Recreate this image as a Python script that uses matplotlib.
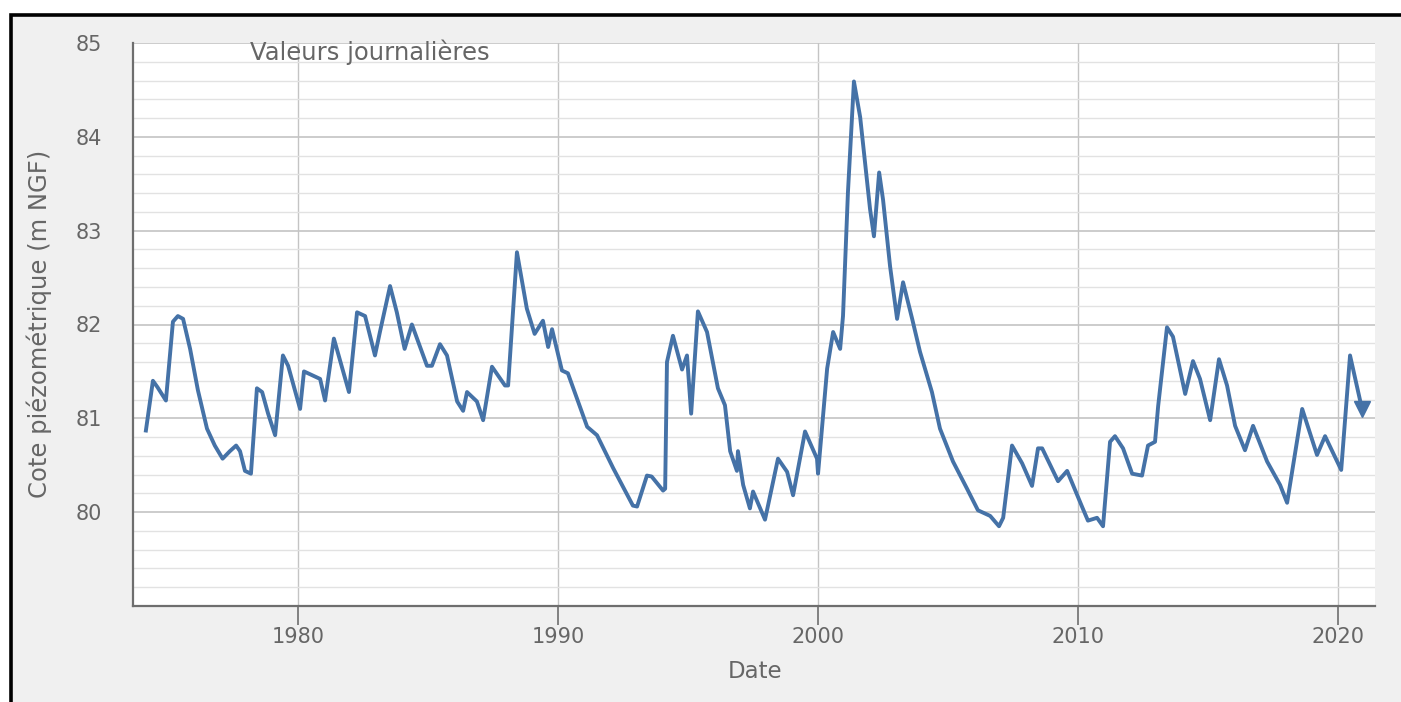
import numpy as np
import matplotlib
matplotlib.use("Agg")
from matplotlib import pyplot as plt
from matplotlib.patches import Rectangle
from matplotlib.ticker import MultipleLocator

# Piezometric level (decimal year, m NGF)
years = [
    1974.15, 1974.42, 1974.6, 1974.92, 1975.19, 1975.38, 1975.58, 1975.85,
    1976.15, 1976.5, 1976.8, 1977.1, 1977.38, 1977.62, 1977.77, 1977.96,
    1978.19, 1978.42, 1978.62, 1978.85, 1979.12, 1979.42, 1979.62, 1980.08,
    1980.23, 1980.85, 1981.04, 1981.38, 1981.96, 1982.27, 1982.58, 1982.96,
    1983.15, 1983.54, 1983.8, 1984.1, 1984.38, 1984.96, 1985.15, 1985.46,
    1985.73, 1986.12, 1986.35, 1986.5, 1986.88, 1987.12, 1987.46, 1987.96,
    1988.08, 1988.42, 1988.8, 1989.1, 1989.42, 1989.62, 1989.77, 1990.15,
    1990.38, 1991.12, 1991.5, 1992.12, 1992.88, 1993.04, 1993.42, 1993.6,
    1994.04, 1994.12, 1994.19, 1994.42, 1994.77, 1994.96, 1995.12, 1995.38,
    1995.73, 1996.15, 1996.42, 1996.62, 1996.88, 1996.92, 1997.12, 1997.38,
    1997.5, 1997.96, 1998.46, 1998.81, 1999.04, 1999.5, 1999.96, 2000.0,
    2000.35, 2000.58, 2000.85, 2000.96, 2001.15, 2001.38, 2001.62, 2002.0,
    2002.15, 2002.35, 2002.5, 2002.77, 2003.04, 2003.27, 2003.62, 2003.92,
    2004.38, 2004.69, 2005.19, 2005.73, 2006.15, 2006.62, 2006.96, 2007.12,
    2007.46, 2007.85, 2008.23, 2008.46, 2008.62, 2009.04, 2009.23, 2009.58,
    2010.15, 2010.38, 2010.73, 2010.96, 2011.23, 2011.42, 2011.73, 2012.08,
    2012.46, 2012.69, 2012.96, 2013.08, 2013.42, 2013.65, 2014.12, 2014.42,
    2014.69, 2015.08, 2015.42, 2015.73, 2016.04, 2016.42, 2016.73, 2017.27,
    2017.77, 2018.04, 2018.62, 2019.19, 2019.5, 2020.12, 2020.46, 2020.92,
]
levels = [
    80.87, 81.40, 81.33, 81.19, 82.03, 82.09, 82.06, 81.74,
    81.30, 80.89, 80.71, 80.57, 80.65, 80.71, 80.65, 80.44,
    80.41, 81.32, 81.28, 81.05, 80.82, 81.67, 81.56, 81.10,
    81.50, 81.42, 81.19, 81.85, 81.28, 82.13, 82.09, 81.67,
    81.92, 82.41, 82.13, 81.74, 82.00, 81.56, 81.56, 81.79,
    81.67, 81.18, 81.08, 81.28, 81.18, 80.98, 81.55, 81.35,
    81.35, 82.77, 82.17, 81.90, 82.04, 81.76, 81.95, 81.51,
    81.48, 80.91, 80.82, 80.47, 80.07, 80.06, 80.39, 80.38,
    80.23, 80.25, 81.60, 81.88, 81.52, 81.67, 81.05, 82.14,
    81.92, 81.32, 81.14, 80.65, 80.44, 80.65, 80.29, 80.04,
    80.22, 79.92, 80.57, 80.43, 80.18, 80.86, 80.57, 80.41,
    81.53, 81.92, 81.74, 82.09, 83.41, 84.59, 84.21, 83.23,
    82.94, 83.62, 83.33, 82.62, 82.06, 82.45, 82.06, 81.71,
    81.28, 80.89, 80.54, 80.25, 80.02, 79.96, 79.85, 79.94,
    80.71, 80.52, 80.28, 80.68, 80.68, 80.44, 80.33, 80.44,
    80.06, 79.91, 79.94, 79.85, 80.75, 80.81, 80.68, 80.41,
    80.39, 80.71, 80.75, 81.13, 81.97, 81.87, 81.26, 81.61,
    81.42, 80.98, 81.63, 81.35, 80.92, 80.66, 80.92, 80.54,
    80.29, 80.10, 81.10, 80.61, 80.81, 80.45, 81.67, 81.10,
]
decades = [1980, 1990, 2000, 2010, 2020]

W, H = 1401, 702
TEXT = "#666666"
LINE = "#4572a7"

fig = plt.figure(figsize=(W / 100, H / 100), dpi=100, facecolor="white")

# Grey panel with the black border on top and left (kept behind the axes)
fig.patches.append(Rectangle((11 / W, -0.05), 1.2, 1.05 - 14.5 / H,
                             transform=fig.transFigure, facecolor="#f0f0f0",
                             edgecolor="black", linewidth=2.6, zorder=-10))

ax = fig.add_axes([133 / W, 1 - 606 / H, (1375 - 133) / W, (606 - 43) / H])
ax.set_zorder(1)
ax.set_facecolor("white")

ax.plot(years, levels, color=LINE, linewidth=2.8, solid_joinstyle="round", zorder=3)
ax.plot(years[-1], levels[-1], marker="v", color=LINE, markersize=11, zorder=4)

ax.set_xlim(1973.654, 2021.42)
ax.set_ylim(79, 85)
ax.set_xticks(decades)
ax.set_xticklabels([str(d) for d in decades])
ax.yaxis.set_minor_locator(MultipleLocator(0.2))
ax.set_yticks([80, 81, 82, 83, 84, 85])

ax.grid(which="minor", axis="y", color="#e2e2e2", linewidth=1.0)
ax.grid(which="major", axis="y", color="#c4c4c4", linewidth=1.2)
ax.grid(which="major", axis="x", color="#c4c4c4", linewidth=1.0)
ax.set_axisbelow(True)

for side in ("top", "right"):
    ax.spines[side].set_visible(False)
for side in ("left", "bottom"):
    ax.spines[side].set_color("#6e6e6e")
    ax.spines[side].set_linewidth(1.6)

ax.tick_params(axis="x", which="major", direction="out", length=13.5, width=1.2,
               color="#6e6e6e", labelcolor=TEXT, labelsize=15, pad=1.5)
ax.tick_params(axis="y", which="both", length=0, labelcolor=TEXT, labelsize=15, pad=22)

fig.text(250 / W, 1 - 52 / H, "Valeurs journalières", color=TEXT, fontsize=17.5,
         ha="left", va="center", zorder=5)
fig.text(39 / W, 1 - 324 / H, "Cote piézométrique (m NGF)", color=TEXT, fontsize=17.5,
         rotation=90, ha="center", va="center")
fig.text(755 / W, 1 - 672 / H, "Date", color=TEXT, fontsize=16.5, ha="center", va="center")

fig.savefig("out.png", dpi=100, facecolor=fig.get_facecolor())
